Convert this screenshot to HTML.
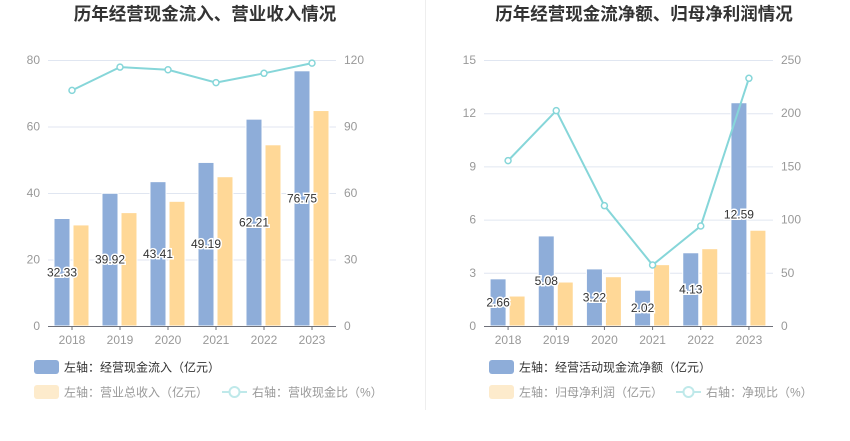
<!DOCTYPE html>
<html><head><meta charset="utf-8">
<style>
body{margin:0;background:#fff;font-family:"Liberation Sans","Noto Sans CJK SC",sans-serif;}
svg text{font-family:"Liberation Sans","Noto Sans CJK SC",sans-serif;}
</style></head>
<body>
<svg id="c" width="850" height="436" viewBox="0 0 850 436">
<line x1="425.5" y1="0" x2="425.5" y2="410" stroke="#eee"/>
</svg>
<script>
const years=["2018","2019","2020","2021","2022","2023"];
const leftBlue=[32.33,39.92,43.41,49.19,62.21,76.75];
const leftYellow=[30.4,34.1,37.5,44.9,54.5,64.8];
const leftLine=[106.3,116.8,115.6,109.8,114.0,118.6];
const leftTicksL=[0,20,40,60,80];
const leftTicksR=[0,30,60,90,120];
const rightBlue=[2.66,5.08,3.22,2.02,4.13,12.59];
const rightYellow=[1.69,2.48,2.78,3.46,4.36,5.40];
const rightLine=[155.4,202.4,113.1,57.3,94.0,232.8];
const rightTicksL=[0,3,6,9,12,15];
const rightTicksR=[0,50,100,150,200,250];

const NS="http://www.w3.org/2000/svg";
const svg=document.getElementById('c');
function mk(tag,attrs,parent){const e=document.createElementNS(NS,tag);for(const k in attrs)e.setAttribute(k,attrs[k]);(parent||svg).appendChild(e);return e;}

function chart(o){
  const g=mk('g',{});
  
  
  const x0=o.x0,x1=o.x1,yTop=60,yBot=326;
  const maxL=o.ticksL[o.ticksL.length-1],maxR=o.ticksR[o.ticksR.length-1];
  const yL=v=>yBot-v/maxL*(yBot-yTop);
  const yR=v=>yBot-v/maxR*(yBot-yTop);
  const bw=(x1-x0)/years.length;
  const cx=i=>x0+bw*(i+0.5);
  const t=mk('text',{x:o.tx,y:20,'text-anchor':'middle','font-size':17.5,'font-weight':'bold',fill:'#333'},g);
  t.textContent=o.title;
  
  
  o.ticksL.forEach((v,i)=>{
    const y=yL(v);
    if(i>0){const l=mk('line',{x1:x0,x2:x1,y1:y+.5,y2:y+.5,stroke:'#e0e6f1'},g);
      
      }
    const tx=mk('text',{x:x0-8,y:y+4,'text-anchor':'end','font-size':12,fill:'#999'},g);tx.textContent=v;
    
    
  });
  o.ticksR.forEach(v=>{
    const tx=mk('text',{x:x1+8,y:yR(v)+4,'text-anchor':'start','font-size':12,fill:'#999'},g);tx.textContent=v;
    
    
  });
  years.forEach((yr,i)=>{
    const c=cx(i);
    const b=mk('rect',{x:c-18,y:yL(o.blue[i]),width:16,height:yBot-yL(o.blue[i]),fill:'#8eadd9',stroke:'#fff','stroke-width':1},g);
    
    
    const yb=mk('rect',{x:c+1,y:yL(o.yellow[i]),width:16,height:yBot-yL(o.yellow[i]),fill:'#ffd897',stroke:'#fff','stroke-width':1},g);
    
    
    const xt=mk('text',{x:c,y:yBot+18,'text-anchor':'middle','font-size':12,fill:'#999'},g);xt.textContent=yr;
    
    
    mk('line',{x1:c,x2:c,y1:yBot,y2:yBot+4,stroke:'#6e7079'},g);
  });
  const ax=mk('line',{x1:x0,x2:x1,y1:yBot+.5,y2:yBot+.5,stroke:'#6e7079'},g);
  
  
  const pts=o.line.map((v,i)=>cx(i)+','+yR(v)).join(' ');
  const pl=mk('polyline',{points:pts,fill:'none',stroke:'#86d6d9','stroke-width':2},g);
  
  
  o.line.forEach((v,i)=>{
    const p=mk('circle',{cx:cx(i),cy:yR(v),r:3,fill:'#fff',stroke:'#86d6d9','stroke-width':1.5},g);
    
    
  });
  o.blue.forEach((v,i)=>{
    const l=mk('text',{x:cx(i)-10,y:(yL(v)+yBot)/2+4,'text-anchor':'middle','font-size':12,fill:'#333',stroke:'#fff','stroke-width':3,'paint-order':'stroke'},g);
    l.textContent=v.toFixed(2);
    
    
  });
  const lx=o.lx;
  const r1=mk('rect',{x:lx,y:360,width:25,height:14,rx:3,fill:'#8eadd9'},g);
  
  
  const t1=mk('text',{x:lx+30,y:371.5,'font-size':12,fill:'#333'},g);t1.textContent=o.leg1;
  
  
  const r2=mk('rect',{x:lx,y:385,width:25,height:14,rx:3,fill:'#fdebcc'},g);
  
  
  const t2=mk('text',{x:lx+30,y:396.5,'font-size':12,fill:'#999'},g);t2.textContent=o.leg2;
  
  
  mk('line',{x1:o.lineX,x2:o.lineX+25,y1:392,y2:392,stroke:'#bfe9ea','stroke-width':2},g);
  const lc=mk('circle',{cx:o.lineX+12.5,cy:392,r:5,fill:'#fff',stroke:'#bfe9ea','stroke-width':2},g);
  
  
  const t3=mk('text',{x:o.lineX+30,y:396.5,'font-size':12,fill:'#999'},g);t3.textContent=o.leg3;
  
  
}
chart({name:'left-chart',title:'历年经营现金流入、营业收入情况',tx:205,x0:48,x1:336,blue:leftBlue,yellow:leftYellow,line:leftLine,ticksL:leftTicksL,ticksR:leftTicksR,lx:34,lineX:222,leg1:'左轴：经营现金流入（亿元）',leg2:'左轴：营业总收入（亿元）',leg3:'右轴：营收现金比（%）'});
chart({name:'right-chart',title:'历年经营现金流净额、归母净利润情况',tx:644,x0:484,x1:773,blue:rightBlue,yellow:rightYellow,line:rightLine,ticksL:rightTicksL,ticksR:rightTicksR,lx:489,lineX:676,leg1:'左轴：经营活动现金流净额（亿元）',leg2:'左轴：归母净利润（亿元）',leg3:'右轴：净现比（%）'});
</script>
</body></html>
